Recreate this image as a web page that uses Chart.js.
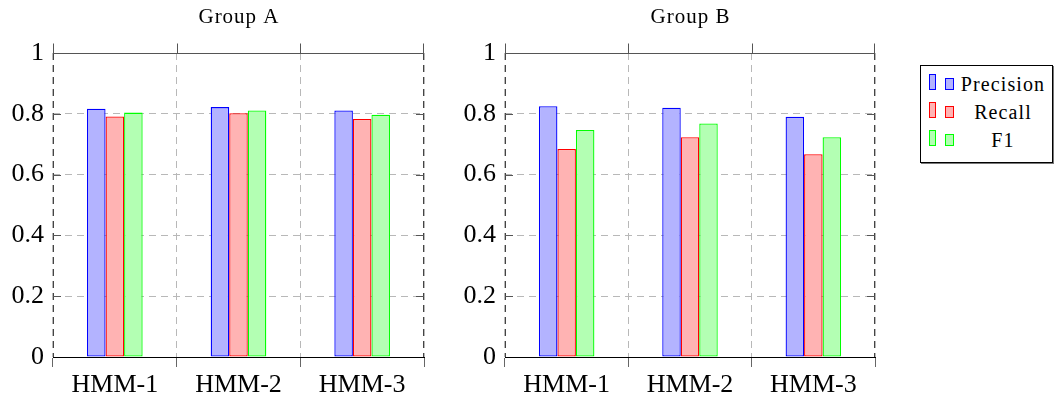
<!DOCTYPE html>
<html>
<head>
<meta charset="utf-8">
<script src="https://cdn.jsdelivr.net/npm/chart.js@4.4.0/dist/chart.umd.min.js"></script>
<style>
  body { margin: 0; width: 1057px; height: 398px; background: #fff; position: relative; overflow: hidden; }
  .wrap { position: absolute; top: 0; height: 398px; }
  #wrapA { left: 0; width: 441px; }
  #wrapB { left: 452px; width: 440px; }
  #legend { position: absolute; left: 920px; top: 65px; width: 131px; height: 96px;
            border: 1px solid #000; box-shadow: 1px 1px 0 #777; background: #fff;
            font-family: "Liberation Serif", serif; }
  .ic { position: absolute; box-sizing: border-box; border: 1px solid; }
  .lbl { position: absolute; left: 34px; width: 96px; text-align: center; font-size: 20px;
         line-height: 20px; letter-spacing: 1.1px; color: #000; white-space: nowrap; }
</style>
</head>
<body>
<div class="wrap" id="wrapA"><canvas id="chartA"></canvas></div>
<div class="wrap" id="wrapB"><canvas id="chartB"></canvas></div>
<div id="legend"></div>
<script>
const categories = ['HMM-1', 'HMM-2', 'HMM-3'];
const seriesNames = ['Precision', 'Recall', 'F1'];
const groupTitles = ['Group A', 'Group B'];
const yTicks = [0, 0.2, 0.4, 0.6, 0.8, 1];

// Group A values
const groupAPrecision = [0.817, 0.822, 0.811];
const groupARecall = [0.791, 0.802, 0.783];
const groupAF1 = [0.804, 0.811, 0.797];

// Group B values
const groupBPrecision = [0.825, 0.820, 0.790];
const groupBRecall = [0.684, 0.723, 0.667];
const groupBF1 = [0.747, 0.768, 0.723];

const lineColors = ['#0000ff', '#ff0000', '#00ff00'];
const fillColors = ['#b3b3ff', '#ffb3b3', '#b3ffb3'];
const serif = '"Liberation Serif", "Times New Roman", serif';
const gridDash = [7, 5];

// title above the plot, centred on the chart area
const groupTitle = {
    id: 'groupTitle',
    afterDraw(chart, args, opts) {
        const {ctx, chartArea: a} = chart;
        ctx.save();
        ctx.font = '21px ' + serif;
        ctx.letterSpacing = '1px';
        ctx.fillStyle = '#000';
        ctx.textAlign = 'center';
        ctx.textBaseline = 'alphabetic';
        ctx.fillText(opts.text, (a.left + a.right) / 2 + 0.5, 23);
        ctx.restore();
    }
};

// axis box: dashed sides, solid top with ticks, inward y ticks
const frame = {
    id: 'frame',
    afterDatasetsDraw(chart) {
        const {ctx, chartArea: a, scales: {y}} = chart;
        const n = categories.length;
        ctx.save();
        ctx.lineWidth = 1;
        ctx.strokeStyle = '#444';
        ctx.setLineDash(gridDash);
        ctx.beginPath();
        ctx.moveTo(Math.round(a.left) + 0.5, a.top);
        ctx.lineTo(Math.round(a.left) + 0.5, a.bottom);
        ctx.moveTo(Math.round(a.right) - 0.5, a.top);
        ctx.lineTo(Math.round(a.right) - 0.5, a.bottom);
        ctx.stroke();
        ctx.setLineDash([]);

        ctx.strokeStyle = '#555';
        ctx.beginPath();
        const top = Math.round(a.top) + 0.5;
        ctx.moveTo(a.left, top);
        ctx.lineTo(a.right, top);
        for (let i = 0; i <= n; i++) {
            let px = Math.round(a.left + i * (a.right - a.left) / n) + 0.5;
            if (i === n) px -= 1;
            ctx.moveTo(px, top);
            ctx.lineTo(px, top - 10);
        }
        yTicks.forEach(v => {
            const py = Math.round(y.getPixelForValue(v)) + 0.5;
            ctx.moveTo(a.left, py);
            ctx.lineTo(a.left + 8, py);
            ctx.moveTo(a.right, py);
            ctx.lineTo(a.right - 8, py);
        });
        ctx.stroke();

        ctx.strokeStyle = '#000';
        ctx.beginPath();
        const bottom = Math.round(a.bottom) + 0.5;
        ctx.moveTo(a.left, bottom);
        ctx.lineTo(a.right, bottom);
        ctx.stroke();
        ctx.restore();
    }
};

function makeChart(id, title, values) {
    return new Chart(document.getElementById(id), {
        type: 'bar',
        data: {
            labels: categories,
            datasets: seriesNames.map((name, i) => ({
                label: name,
                data: values[i],
                backgroundColor: fillColors[i],
                borderColor: lineColors[i],
                borderWidth: 1.3,
                borderSkipped: false,
                categoryPercentage: 0.45,
                barPercentage: 1
            }))
        },
        options: {
            responsive: true,
            maintainAspectRatio: false,
            animation: false,
            layout: {padding: {top: 53, right: 17, left: 0, bottom: 0}},
            plugins: {
                legend: {display: false},
                tooltip: {enabled: false},
                groupTitle: {text: title}
            },
            scales: {
                x: {
                    grid: {color: '#b8b8b8', tickColor: '#666', tickLength: 10, tickBorderDash: []},
                    border: {display: true, color: '#000', width: 1, dash: gridDash},
                    ticks: {color: '#000', font: {family: serif, size: 26}, padding: 3, maxRotation: 0},
                    afterFit: s => { s.height = 41; }
                },
                y: {
                    min: 0,
                    max: 1,
                    afterBuildTicks: s => { s.ticks = yTicks.map(v => ({value: v})); },
                    grid: {color: '#b8b8b8', drawTicks: false},
                    border: {display: false, dash: gridDash},
                    ticks: {
                        color: '#000',
                        font: {family: serif, size: 26},
                        padding: 9,
                        callback: v => String(v)
                    },
                    afterFit: s => { s.width = 53; }
                }
            }
        },
        plugins: [frame, groupTitle]
    });
}

makeChart('chartA', groupTitles[0], [groupAPrecision, groupARecall, groupAF1]);
makeChart('chartB', groupTitles[1], [groupBPrecision, groupBRecall, groupBF1]);

// legend: two small bar icons and a centred label per series
const legend = document.getElementById('legend');
seriesNames.forEach((name, i) => {
    const base = 24 + 28 * i;
    const ic1 = document.createElement('div');
    ic1.className = 'ic';
    Object.assign(ic1.style, {left: '8px', top: (base - 16) + 'px', width: '7px', height: '16px',
        borderColor: lineColors[i], background: fillColors[i]});
    const ic2 = document.createElement('div');
    ic2.className = 'ic';
    Object.assign(ic2.style, {left: '24px', top: (base - 12) + 'px', width: '9px', height: '12px',
        borderColor: lineColors[i], background: fillColors[i]});
    const lbl = document.createElement('div');
    lbl.className = 'lbl';
    lbl.style.top = (base - 16) + 'px';
    lbl.textContent = name;
    legend.append(ic1, ic2, lbl);
});
</script>
</body>
</html>
